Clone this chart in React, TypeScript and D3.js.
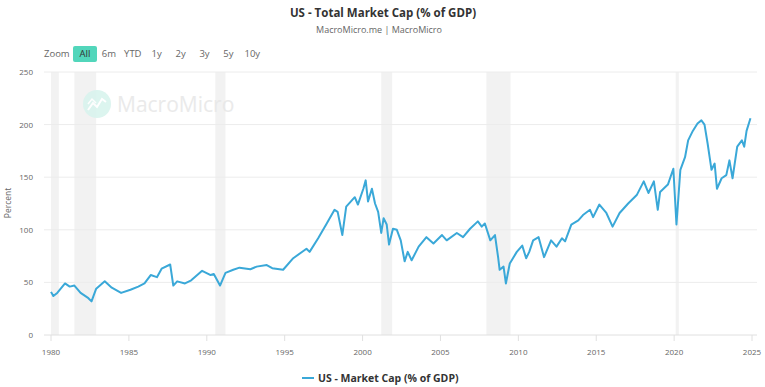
import React from 'react';
import * as d3 from 'd3';

// decimal years and market cap as % of GDP
const years = [
  1980.0, 1980.15, 1980.4, 1980.9, 1981.2, 1981.5, 1981.9, 1982.4, 1982.6, 1982.9,
  1983.45, 1983.9, 1984.5, 1985.1, 1985.6, 1986.0, 1986.4, 1986.8, 1987.1, 1987.65,
  1987.85, 1988.1, 1988.6, 1989.0, 1989.7, 1990.25, 1990.45, 1990.85, 1991.2, 1991.7,
  1992.1, 1992.8, 1993.2, 1993.85, 1994.2, 1994.9, 1995.55, 1996.4, 1996.6, 1997.15,
  1997.7, 1998.2, 1998.4, 1998.7, 1998.95, 1999.5, 1999.7, 2000.05, 2000.2, 2000.35,
  2000.6, 2000.8, 2001.0, 2001.2, 2001.35, 2001.55, 2001.7, 2001.95, 2002.2, 2002.45,
  2002.7, 2002.9, 2003.15, 2003.6, 2004.1, 2004.55, 2005.1, 2005.4, 2006.05, 2006.45,
  2006.9, 2007.4, 2007.65, 2007.85, 2008.2, 2008.5, 2008.7, 2008.8, 2009.05, 2009.2,
  2009.45, 2009.9, 2010.25, 2010.5, 2010.7, 2010.95, 2011.3, 2011.65, 2012.1, 2012.45,
  2012.8, 2013.0, 2013.4, 2013.85, 2014.15, 2014.6, 2014.8, 2015.2, 2015.65, 2016.05,
  2016.5, 2017.05, 2017.6, 2018.05, 2018.35, 2018.7, 2018.95, 2019.1, 2019.6, 2019.95,
  2020.15, 2020.4, 2020.7, 2020.9, 2021.2, 2021.5, 2021.75, 2021.95, 2022.15, 2022.4,
  2022.6, 2022.75, 2023.05, 2023.35, 2023.55, 2023.75, 2024.05, 2024.35, 2024.5, 2024.65,
  2024.9,
];
const marketCap = [
  41, 37, 40, 49, 46, 47, 40, 35, 32, 44,
  51, 45, 40, 43, 46, 49, 57, 55, 63, 67,
  47, 51, 49, 52, 61, 57, 58, 47, 59, 62,
  64, 62.5, 65, 66.5, 63.5, 62, 73, 82, 79, 92,
  106, 119, 117, 95, 122, 131, 124, 139, 147, 127,
  139, 125, 117, 97, 111, 105, 86, 101, 100, 90,
  70, 79, 71, 84, 93, 87, 95, 90, 97, 93,
  101, 108, 103, 106, 90, 95, 74, 62, 65, 49,
  68, 79, 85, 73, 79, 90, 93, 74, 90, 84,
  92, 89, 105, 109, 114, 119, 112, 124, 116, 103,
  116, 125, 133, 146, 135, 146, 119, 136, 143, 158,
  105, 157, 169, 185, 194, 201, 204, 200, 182, 157,
  163, 139, 149, 152, 166, 149, 179, 185, 179, 194,
  206,
];

const recessionStart = [1980.0, 1981.5, 1990.55, 2001.2, 2007.95, 2020.1];
const recessionEnd = [1980.5, 1982.9, 1991.2, 2001.9, 2009.5, 2020.3];

const yTicks = [0, 50, 100, 150, 200, 250];
const xTicks = [1980, 1985, 1990, 1995, 2000, 2005, 2010, 2015, 2020, 2025];
const zoomButtons = ['All', '6m', 'YTD', '1y', '2y', '3y', '5y', '10y'];

const W = 765;
const H = 387;
const font = '"Open Sans", "Noto Sans", sans-serif';
const lineColor = '#3aa8d8';

export default function App() {
  const x = d3.scaleLinear().domain([1979.55, 2025.32]).range([44, 757]);
  const y = d3.scaleLinear().domain([0, 250]).range([335, 72]);

  const points = years.map((yr, i) => [yr, marketCap[i]] as [number, number]);
  const line = d3
    .line<[number, number]>()
    .x((d) => x(d[0]))
    .y((d) => y(d[1]));

  return (
    <svg
      width={W}
      height={H}
      style={{ position: 'absolute', left: 0, top: 0, background: '#fff' }}
      fontFamily={font}
    >
      <text x={383} y={17} textAnchor="middle" fontSize={11.5} fontWeight="bold" fill="#333">
        US - Total Market Cap (% of GDP)
      </text>
      <text x={379} y={33} textAnchor="middle" fontSize={9} fill="#666">
        MacroMicro.me | MacroMicro
      </text>

      {/* range selector */}
      <text x={44} y={57} fontSize={9.5} fill="#666">Zoom</text>
      {zoomButtons.map((b, i) => {
        const cx = 85 + i * 23.9;
        return (
          <g key={b}>
            {i === 0 && <rect x={73} y={46} width={24} height={16} rx={2} fill="#52d6bb" />}
            <text x={cx} y={57} textAnchor="middle" fontSize={9.5} fill={i === 0 ? '#333' : '#666'}>
              {b}
            </text>
          </g>
        );
      })}

      {/* recession bands */}
      {recessionStart.map((s, i) => (
        <rect
          key={s}
          x={x(s)}
          y={72}
          width={x(recessionEnd[i]) - x(s)}
          height={335 - 72}
          fill="#f2f2f2"
        />
      ))}

      {/* grid */}
      {yTicks.map((t) => (
        <g key={t}>
          <line x1={44} x2={757} y1={y(t)} y2={y(t)} stroke={t === 0 ? '#e0e0e0' : '#ececec'} />
          <text x={33} y={y(t) + 3} textAnchor="end" fontSize={8} fill="#666">
            {t}
          </text>
        </g>
      ))}
      {xTicks.map((t) => (
        <g key={t}>
          <line x1={x(t)} x2={x(t)} y1={335} y2={341} stroke="#e0e0e0" />
          <text x={x(t)} y={355} textAnchor="middle" fontSize={8} fill="#666">
            {t}
          </text>
        </g>
      ))}
      <text
        transform="translate(11,203) rotate(-90)"
        textAnchor="middle"
        fontSize={8.5}
        fill="#666"
      >
        Percent
      </text>

      {/* watermark */}
      <g opacity={0.9}>
        <circle cx={97} cy={104} r={14} fill="#d9f4ee" />
        <path
          d="M88,110 L93,103 L97,107 L102,99 L106,102"
          fill="none"
          stroke="#fff"
          strokeWidth={2}
        />
        <path d="M88,104 L92,99 L96,103" fill="none" stroke="#fff" strokeWidth={1.5} />
        <text x={117} y={112} fontSize={21} fill="#e8e8e8">
          MacroMicro
        </text>
      </g>

      <path d={line(points) ?? ''} fill="none" stroke={lineColor} strokeWidth={2} strokeLinejoin="round" />

      {/* legend */}
      <line x1={302} x2={314} y1={378} y2={378} stroke={lineColor} strokeWidth={2} />
      <text x={318} y={382} fontSize={10.5} fontWeight="bold" fill="#333">
        US - Market Cap (% of GDP)
      </text>
    </svg>
  );
}
